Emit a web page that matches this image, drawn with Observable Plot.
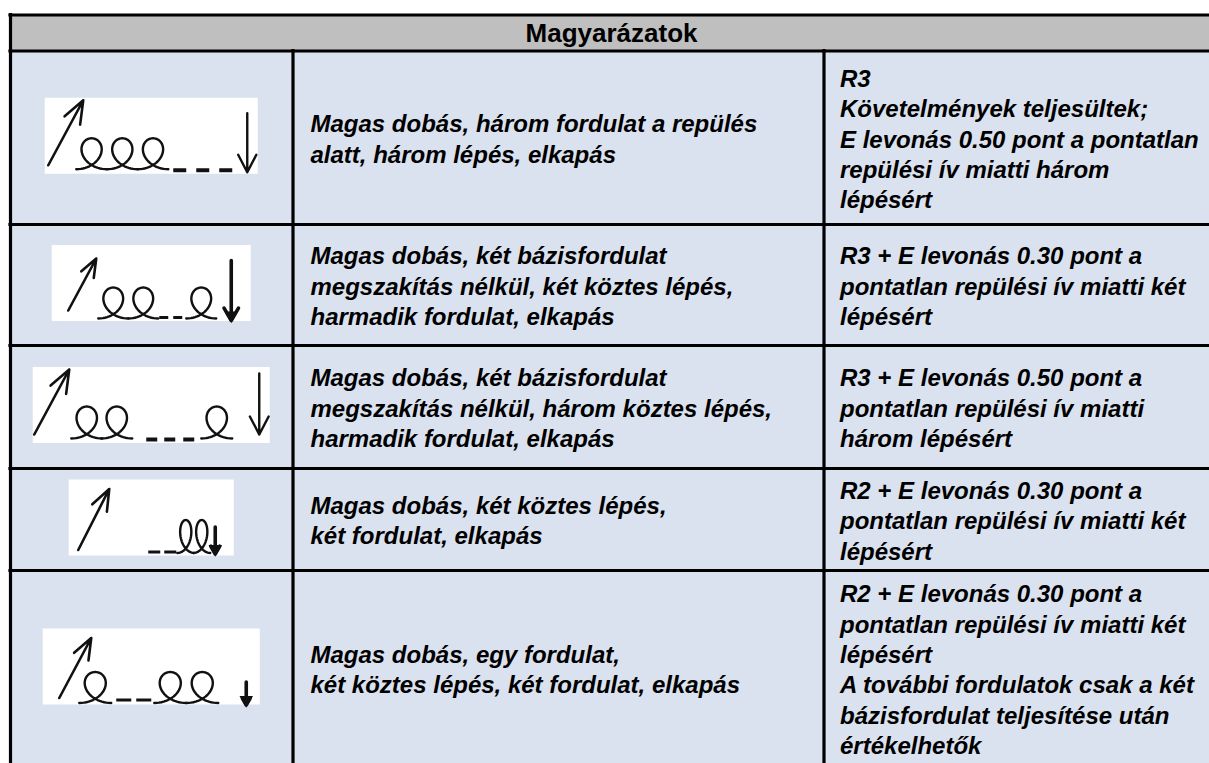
<!DOCTYPE html>
<html><head><meta charset="utf-8">
<script src="https://cdn.jsdelivr.net/npm/d3@7"></script>
<script src="https://cdn.jsdelivr.net/npm/@observablehq/plot@0.6"></script>
<style>html,body{margin:0;padding:0;background:#fff;overflow:hidden;} #chart svg{display:block;overflow:hidden}</style>
</head><body><div id="chart"></div>
<script>
// ---------- DATA ----------
const headerTitle = "Magyarázatok";
// notation symbols per row: throw (↗), turn (loop), step (dash), catch (↓)
const notation = [
  ["throw","turn","turn","turn","step","step","step","catch"],
  ["throw","turn","turn","step","step","turn","catch"],
  ["throw","turn","turn","step","step","step","turn","catch"],
  ["throw","step","step","turn","turn","catch"],
  ["throw","turn","step","step","turn","turn","catch"]
];
const descriptions = [
  "Magas dobás, három fordulat a repülés\nalatt, három lépés, elkapás",
  "Magas dobás, két bázisfordulat\nmegszakítás nélkül, két köztes lépés,\nharmadik fordulat, elkapás",
  "Magas dobás, két bázisfordulat\nmegszakítás nélkül, három köztes lépés,\nharmadik fordulat, elkapás",
  "Magas dobás, két köztes lépés,\nkét fordulat, elkapás",
  "Magas dobás, egy fordulat,\nkét köztes lépés, két fordulat, elkapás"
];
const ratings = [
  "R3\nKövetelmények teljesültek;\nE levonás 0.50 pont a pontatlan\nrepülési ív miatti három\nlépésért",
  "R3 + E levonás 0.30 pont a\npontatlan repülési ív miatti két\nlépésért",
  "R3 + E levonás 0.50 pont a\npontatlan repülési ív miatti\nhárom lépésért",
  "R2 + E levonás 0.30 pont a\npontatlan repülési ív miatti két\nlépésért",
  "R2 + E levonás 0.30 pont a\npontatlan repülési ív miatti két\nlépésért\nA további fordulatok csak a két\nbázisfordulat teljesítése után\nértékelhetők"
];

// ---------- LAYOUT ----------
const W = 1209, H = 763;
const colEdges = [10, 292.5, 823.5, 1212];
const rowEdges = [14.5, 50.5, 224, 345, 468, 570, 766];
const iconBoxW = [213, 199, 237, 165, 217];
const iconBoxH = 76;
// symbol x offsets inside each icon (aligned with notation tokens)
const tokenX = [
  [3, 31, 61.7, 92.4, 128, 151, 174, 202],
  [16, 46, 76, 107, 121, 134, 179],
  [1, 38, 68, 113, 131, 150, 168, 226],
  [9, 79, 95, 108, 124, 146],
  [16, 36, 73, 93, 111, 143, 203]
];
const glyph = [
  {turnW:30.7, turnH:31, base:71, stepW:13, stepT:4, stepY:72, throwY:[67,2], throwDX:35, catchY:[15,74], bold:false},
  {turnW:30, turnH:31, base:73, stepW:9, stepT:3, stepY:72, throwY:[65,13], throwDX:28, catchY:[15,75], bold:true},
  {turnW:31, turnH:32, base:71, stepW:11, stepT:4, stepY:72, throwY:[67,2], throwDX:35, catchY:[6,67], bold:false},
  {turnW:17, turnH:33, base:73, stepW:12, stepT:3, stepY:72, throwY:[70,9], throwDX:31, catchY:[47,74], bold:true},
  {turnW:32, turnH:31, base:74, stepW:15, stepT:3, stepY:71, throwY:[69,9], throwDX:32, catchY:[53,76], bold:true}
];

const FONT = "Liberation Sans, Arial, Helvetica, sans-serif";
const BODY_BG = "#dbe2ef", HEAD_BG = "#bfbfbf", INK = "#111";
const FS = 24, LH = 1.27;

// ---------- BUILD ----------
const nRows = descriptions.length;
const rows = d3.range(nRows).map(i => ({
  i, y1: rowEdges[i+1], y2: rowEdges[i+2], cy: (rowEdges[i+1] + rowEdges[i+2]) / 2
}));
const cells = rows.flatMap(r => [0,1,2].map(c => ({x1: colEdges[c], x2: colEdges[c+1], y1: r.y1, y2: r.y2})));
const colCenter0 = (colEdges[0] + colEdges[1]) / 2;

const boxes = rows.map(r => ({
  i: r.i, x0: colCenter0 - iconBoxW[r.i] / 2, y0: r.cy - iconBoxH / 2 - 1.5, w: iconBoxW[r.i]
}));

const loopPts = [], dashes = [], throws = [], catches = [];
boxes.forEach(b => {
  const g = glyph[b.i];
  notation[b.i].forEach((tok, j) => {
    const x = b.x0 + tokenX[b.i][j];
    if (tok === "turn") {
      const k = g.turnW / (2 * Math.PI), bb = 3.5 * k, n = 60;
      for (let s = 0; s <= n; s++) {
        const t = 2 * Math.PI * s / n;
        loopPts.push({id: `${b.i}-${j}`, x: x + k * t + bb * Math.sin(t), y: b.y0 + g.base - g.turnH * (1 - Math.cos(t)) / 2});
      }
    } else if (tok === "step") {
      dashes.push({x1: x, x2: x + g.stepW, y: b.y0 + g.stepY, w: g.stepT});
    } else if (tok === "throw") {
      throws.push({x1: x, y1: b.y0 + g.throwY[0], x2: x + g.throwDX, y2: b.y0 + g.throwY[1]});
    } else if (tok === "catch") {
      catches.push({x, y1: b.y0 + g.catchY[0], y2: b.y0 + g.catchY[1], bold: g.bold});
    }
  });
});

const hLines = rowEdges.map(y => ({y, x1: colEdges[0], x2: colEdges[3]}));
const vLines = [
  {x: colEdges[0], y1: rowEdges[0], y2: rowEdges[rowEdges.length-1]},
  {x: colEdges[3], y1: rowEdges[0], y2: rowEdges[rowEdges.length-1]},
  {x: colEdges[1], y1: rowEdges[1], y2: rowEdges[rowEdges.length-1]},
  {x: colEdges[2], y1: rowEdges[1], y2: rowEdges[rowEdges.length-1]}
];

const chart = Plot.plot({
  width: W, height: H,
  margin: 0,
  x: {type: "linear", domain: [0, W], range: [0, W], axis: null},
  y: {type: "linear", domain: [0, H], range: [0, H], axis: null},
  style: {background: "#fff", fontFamily: FONT},
  marks: [
    Plot.rect([{x1: colEdges[0], x2: colEdges[3], y1: rowEdges[0], y2: rowEdges[1]}], {x1: "x1", x2: "x2", y1: "y1", y2: "y2", fill: HEAD_BG}),
    Plot.rect(cells, {x1: "x1", x2: "x2", y1: "y1", y2: "y2", fill: BODY_BG}),
    Plot.rect(boxes, {x1: "x0", x2: d => d.x0 + d.w, y1: "y0", y2: d => d.y0 + iconBoxH, fill: "#fff"}),
    Plot.line(loopPts, {x: "x", y: "y", z: "id", stroke: INK, strokeWidth: 2.4, strokeLinejoin: "round", strokeLinecap: "round"}),
    Plot.link(dashes, {x1: "x1", x2: "x2", y1: "y", y2: "y", stroke: INK, strokeWidth: "w"}),
    Plot.arrow(throws, {x1: "x1", y1: "y1", x2: "x2", y2: "y2", stroke: INK, strokeWidth: 2.6, headLength: 16, headAngle: 42}),
    Plot.arrow(catches.filter(d => !d.bold), {x1: "x", y1: "y1", x2: "x", y2: "y2", stroke: INK, strokeWidth: 2.4, headLength: 14, headAngle: 55}),
    Plot.arrow(catches.filter(d => d.bold), {x1: "x", y1: "y1", x2: "x", y2: "y2", stroke: INK, strokeWidth: 3.6, headLength: 6, headAngle: 60}),
    Plot.dot(catches.filter(d => d.bold), {x: "x", y: d => d.y2 - 5, symbol: "triangle", rotate: 180, r: 5, fill: INK}),
    Plot.text([headerTitle], {x: (colEdges[0] + colEdges[3]) / 2, y: (rowEdges[0] + rowEdges[1]) / 2 + 1, text: d => d, fontSize: 26, fontWeight: "bold", fill: "#000", textAnchor: "middle", fontFamily: FONT}),
    Plot.text(rows, {x: colEdges[1] + 17.5, y: d => d.cy, text: d => descriptions[d.i], textAnchor: "start", lineAnchor: "middle", lineHeight: LH, fontSize: FS, fontWeight: "bold", fontStyle: "italic", fill: "#000", fontFamily: FONT}),
    Plot.text(rows, {x: colEdges[2] + 16, y: d => d.cy, text: d => ratings[d.i], textAnchor: "start", lineAnchor: "middle", lineHeight: LH, fontSize: FS, fontWeight: "bold", fontStyle: "italic", fill: "#000", fontFamily: FONT}),
    Plot.ruleY(hLines, {y: "y", x1: "x1", x2: "x2", stroke: "#000", strokeWidth: 3.2, strokeLinecap: "square"}),
    Plot.ruleX(vLines, {x: "x", y1: "y1", y2: "y2", stroke: "#000", strokeWidth: 3.2, strokeLinecap: "square"})
  ]
});
document.getElementById("chart").append(chart);
</script>
</body></html>
